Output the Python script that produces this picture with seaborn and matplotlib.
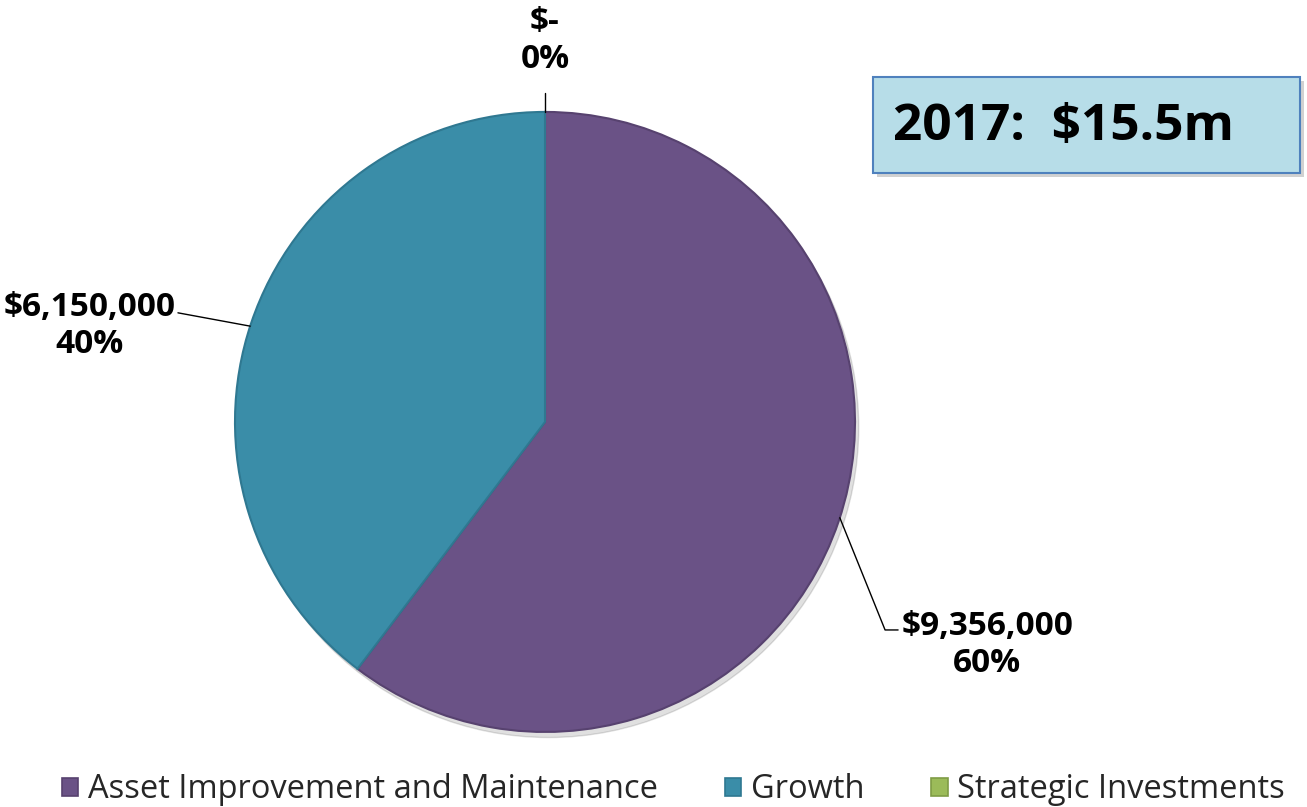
import seaborn as sns
import matplotlib.pyplot as plt
from matplotlib.patches import Patch, Rectangle

categories = ['Asset Improvement and Maintenance', 'Growth', 'Strategic Investments']
amounts = [9356000, 6150000, 0]
amount_labels = ['$9,356,000', '$6,150,000', '$-']
pct_labels = ['60%', '40%', '0%']
total_label = '2017:  $15.5m'

sns.set_theme(style='white')
plt.rcParams['font.family'] = ['Open Sans', 'DejaVu Sans']

colors = ['#6A5286', '#3A8DA8', '#9BBB59']
edges = ['#57426F', '#2F7891', '#7F9C45']

fig = plt.figure(figsize=(13.07, 8.07), dpi=100)
ax = fig.add_axes([0, 0, 1, 1])

# soft shadow under the pie
shadow = plt.Circle((0.012, -0.018), 1.0, color='#000000', alpha=0.12, zorder=0)
ax.add_patch(shadow)

wedges, _ = ax.pie(amounts, colors=colors, startangle=90, counterclock=False,
                   radius=1.0, center=(0, 0),
                   wedgeprops=dict(linewidth=1.5))
for w, ec, v in zip(wedges, edges, amounts):
    w.set_edgecolor(ec)
    w.set_zorder(2)
    if v == 0:
        w.set_linewidth(0)
ax.set_xlim(-1.758, 2.458)
ax.set_ylim(-1.242, 1.361)
ax.set_aspect('equal')
ax.axis('off')

# labels with leader lines
lab_kw = dict(fontsize=24, fontweight='bold', color='black', ha='center',
              va='center', linespacing=1.15)

# purple
ax.plot([0.951, 1.097, 1.139], [-0.309, -0.671, -0.671], color='black', lw=1, zorder=3)
ax.text(1.426, -0.719, amount_labels[0] + '\n' + pct_labels[0], **lab_kw)
# teal
ax.plot([-0.951, -1.184], [0.309, 0.352], color='black', lw=1, zorder=3)
ax.text(-1.468, 0.31, amount_labels[1] + '\n' + pct_labels[1], **lab_kw)
# green (zero slice)
ax.plot([0, 0], [1.0, 1.061], color='black', lw=1, zorder=3)
ax.text(0, 1.229, amount_labels[2] + '\n' + pct_labels[2], **lab_kw)

# total box
fig.patches.append(Rectangle((877 / 1307, 1 - 177 / 807), 427 / 1307, 96 / 807,
                             transform=fig.transFigure, facecolor='#000000',
                             alpha=0.18, edgecolor='none', zorder=1))
fig.patches.append(Rectangle((873 / 1307, 1 - 173 / 807), 427 / 1307, 96 / 807,
                             transform=fig.transFigure, facecolor='#B7DDE8',
                             edgecolor='#4F81BD', linewidth=1.5, zorder=2))
fig.text(893 / 1307, 1 - 127 / 807, total_label, fontsize=37, fontweight='bold',
         ha='left', va='center', color='black')

handles = [Patch(facecolor=c, edgecolor=e, linewidth=1.2) for c, e in zip(colors, edges)]
fig.legend(handles, categories, loc='center', bbox_to_anchor=(0.5153, 1 - 790 / 807),
           ncol=3, frameon=False, fontsize=23.5, handlelength=0.5, handleheight=0.5,
           handletextpad=0.3, columnspacing=2.05, borderpad=0)

fig.savefig('out.png', dpi=100)
